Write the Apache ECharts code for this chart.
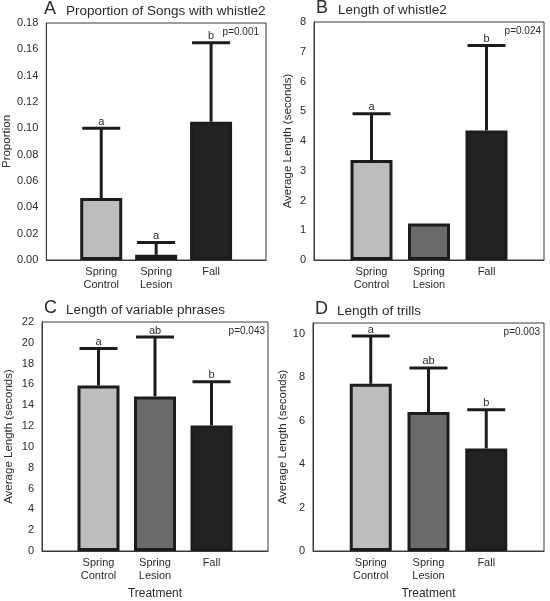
<!DOCTYPE html>
<html><head><meta charset="utf-8">
<script src="https://cdn.jsdelivr.net/npm/echarts@6/dist/echarts.min.js"></script>
<style>html,body{margin:0;padding:0;background:#fff}#c{width:550px;height:601px}</style>
</head><body><div id="c"></div>
<script>
const categories = ['Spring\nControl', 'Spring\nLesion', 'Fall'];
const barColors = ['#bdbdbd', '#6b6b6b', '#222222'];

const titleA = 'Proportion of Songs with whistle2';
const meanA = [0.047, 0.004, 0.105];
const upperA = [0.100, 0.0133, 0.165];
const lettersA = ['a', 'a', 'b'];
const pA = 'p=0.001';
const yNameA = 'Proportion';

const titleB = 'Length of whistle2';
const meanB = [3.36, 1.23, 4.35];
const upperB = [4.92, null, 7.21];
const lettersB = ['a', '', 'b'];
const pB = 'p=0.024';
const yNameB = 'Average Length (seconds)';

const titleC = 'Length of variable phrases';
const meanC = [15.9, 14.85, 12.05];
const upperC = [19.45, 20.55, 16.25];
const lettersC = ['a', 'ab', 'b'];
const pC = 'p=0.043';
const yNameC = 'Average Length (seconds)';

const titleD = 'Length of trills';
const meanD = [7.7, 6.4, 4.72];
const upperD = [9.9, 8.43, 6.5];
const lettersD = ['a', 'ab', 'b'];
const pD = 'p=0.003';
const yNameD = 'Average Length (seconds)';

const xName = 'Treatment';

const FONT = "'Liberation Sans', Arial, sans-serif";
const TXT = '#2b2b2b';
const AX = '#3a3a3a';

const panels = [
  {letter:'A', title:titleA, mean:meanA, upper:upperA, letters:lettersA, p:pA, yName:yNameA,
   yMax:0.18, yInt:0.02, dec:2, grid:{left:42, top:23, width:224, height:237}, nameGap:31, xName:'', pRight:7},
  {letter:'B', title:titleB, mean:meanB, upper:upperB, letters:lettersB, p:pB, yName:yNameB,
   yMax:8, yInt:1, dec:0, grid:{left:314, top:22, width:230, height:238}, nameGap:20, xName:'', pRight:3},
  {letter:'C', title:titleC, mean:meanC, upper:upperC, letters:lettersC, p:pC, yName:yNameC,
   yMax:22, yInt:2, dec:0, grid:{left:42, top:322, width:226, height:238}, nameGap:27, xName:xName, pRight:3},
  {letter:'D', title:titleD, mean:meanD, upper:upperD, letters:lettersD, p:pD, yName:yNameD,
   yMax:10.5, yInt:2, dec:0, grid:{left:313, top:323, width:231, height:237}, nameGap:21, xName:xName, pRight:4}
];

const axisCats = [''].concat(categories, ['']);

const option = {
  animation: false,
  backgroundColor: '#fff',
  textStyle: {fontFamily: FONT},
  grid: [], xAxis: [], yAxis: [], series: [], graphic: []
};

panels.forEach((p, k) => {
  const g = p.grid;
  option.grid.push(Object.assign({show:true, borderColor:AX, borderWidth:1, backgroundColor:'transparent'}, g));
  option.xAxis.push({
    type:'category', gridIndex:k, data:axisCats, boundaryGap:false,
    axisLine:{show:true, lineStyle:{color:AX, width:1}}, axisTick:{show:false},
    axisLabel:{interval:0, color:TXT, fontSize:11, fontFamily:FONT, lineHeight:13, margin:5},
    name:p.xName, nameLocation:'middle', nameGap:37,
    nameTextStyle:{color:TXT, fontSize:12, fontFamily:FONT}
  });
  option.yAxis.push({
    type:'value', gridIndex:k, min:0, max:p.yMax, interval:p.yInt,
    axisLine:{show:true, lineStyle:{color:AX, width:1}}, axisTick:{show:false}, splitLine:{show:false},
    axisLabel:{color:TXT, fontSize:11, fontFamily:FONT, margin:8,
      formatter: v => (Math.abs(v / p.yInt - Math.round(v / p.yInt)) > 1e-6) ? '' : v.toFixed(p.dec)},
    name:p.yName, nameLocation:'middle', nameGap:p.nameGap, nameRotate:90,
    nameTextStyle:{color:TXT, fontSize:11.5, fontFamily:FONT}
  });
  const barData = [null].concat(p.mean.map((v, i) => ({value:v, itemStyle:{color:barColors[i]}})), [null]);
  option.series.push({
    type:'bar', xAxisIndex:k, yAxisIndex:k, data:barData, barWidth:42,
    itemStyle:{borderColor:'#1c1c1c', borderWidth:3}, z:2
  });
  const errData = p.mean.map((v, i) => [i + 1, v, p.upper[i] == null ? NaN : p.upper[i]]);
  const letters = p.letters;
  option.series.push({
    type:'custom', xAxisIndex:k, yAxisIndex:k, data:errData, encode:{x:0, y:1}, z:5, clip:false,
    renderItem: (params, api) => {
      const up = api.value(2);
      if (up == null || isNaN(up)) return null;
      const idx = api.value(0);
      const top = api.coord([idx, api.value(1)]);
      const cap = api.coord([idx, up]);
      return {type:'group', children:[
        {type:'line', shape:{x1:top[0], y1:top[1], x2:cap[0], y2:cap[1]}, style:{stroke:'#1c1c1c', lineWidth:3}},
        {type:'line', shape:{x1:cap[0]-19, y1:cap[1], x2:cap[0]+19, y2:cap[1]}, style:{stroke:'#1c1c1c', lineWidth:3}},
        {type:'text', x:cap[0], y:cap[1]-1, style:{text:letters[params.dataIndex], textAlign:'center', textVerticalAlign:'bottom',
          font:'11px ' + FONT, fill:TXT}}
      ]};
    }
  });
  option.graphic.push({type:'text', left:g.left + 2, top:g.top - 23,
    style:{text:p.letter, font:'18px ' + FONT, fill:TXT}});
  option.graphic.push({type:'text', left:g.left + 24, top:g.top - 19,
    style:{text:p.title, font:'13.5px ' + FONT, fill:TXT}});
  option.graphic.push({type:'text', right:550 - (g.left + g.width) + p.pRight, top:g.top + 4,
    style:{text:p.p, font:'10px ' + FONT, fill:TXT}});
});

const chart = echarts.init(document.getElementById('c'), null, {renderer:'canvas'});
chart.setOption(option);
</script>
</body></html>
